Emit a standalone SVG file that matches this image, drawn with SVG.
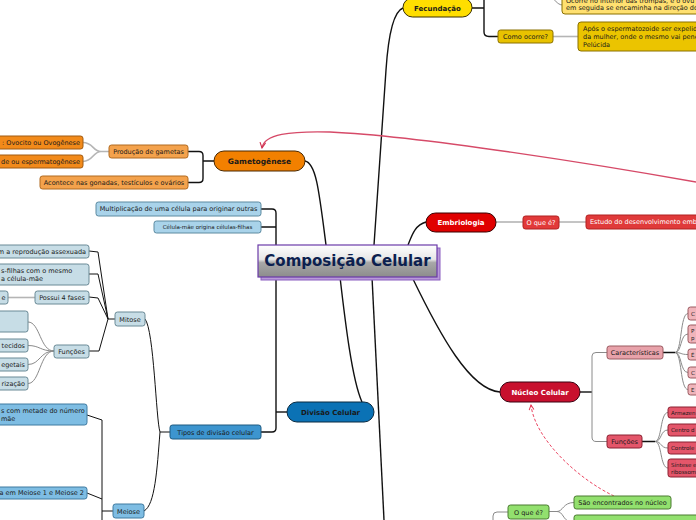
<svg xmlns="http://www.w3.org/2000/svg" width="696" height="520" viewBox="0 0 696 520">
<defs>
<linearGradient id="cg" x1="0" y1="0" x2="0" y2="1">
<stop offset="0" stop-color="#ffffff"/><stop offset="0.45" stop-color="#e6e6e6"/><stop offset="0.55" stop-color="#a8a8a8"/><stop offset="1" stop-color="#8c8c8c"/>
</linearGradient>
<marker id="ar" viewBox="0 0 10 10" refX="9" refY="5" markerWidth="7" markerHeight="7" orient="auto" markerUnits="userSpaceOnUse">
<path d="M1,1 L9,5 L1,9" fill="none" stroke="#d0304f" stroke-width="1.6"/>
</marker>
<marker id="ar2" viewBox="0 0 10 10" refX="9" refY="5" markerWidth="6" markerHeight="6" orient="auto" markerUnits="userSpaceOnUse">
<path d="M1,1 L9,5 L1,9" fill="none" stroke="#e8304f" stroke-width="1.6"/>
</marker>
</defs>
<style>
text{font-family:"DejaVu Sans",Verdana,sans-serif;fill:#1a1a1a}
.t{font-size:6.5px}
.s{font-size:5.5px}
.b{font-weight:bold;font-size:7.5px}
.w{fill:#ffffff}
.k{fill:none;stroke:#111;stroke-width:1.4}
.k1{fill:none;stroke:#111;stroke-width:1}
.g{fill:none;stroke:#8a8a8a;stroke-width:1}
.gl{fill:none;stroke:#b5b5b5;stroke-width:1.6}
</style>
<rect width="696" height="520" fill="#ffffff"/>

<g id="connectors">
<path class="k" d="M403,8 C392,12 388,40 386,70 L374,245"/>
<path class="k" d="M305,161 C316,163 319,190 326,245"/>
<path class="k" d="M426,222 C415,225 412,235 408,245"/>
<path class="k" d="M412,277 C440,335 470,390 500,392"/>
<path class="k" d="M340,277 C345,320 352,380 362,402"/>
<path class="k" d="M372,277 C376,350 380,430 384,520"/>
<path class="k" d="M287,412 H276"/>
<path class="k" d="M261,209 H272 Q276,209 276,213 V428 Q276,432 272,432 H261 M261,227 H276"/>
<path class="k" d="M214,161 H203 M188,151.5 H199 Q203,151.5 203,155.5 V178.5 Q203,182.5 199,182.5 H188"/>
<path class="gl" d="M109,151.5 H101 C93,151.5 93,142.5 83,142.5 M101,151.5 C93,151.5 93,161.5 83,161.5"/>
<path class="k1" d="M170,432 H160 C156,420 154,330 145,319 M160,432 C157,470 155,505 144,511"/>
<path class="k1" d="M115,319 H108 M89,251 L98,252 L108,319 M89,274 L98,274 L108,319 M89,297 L98,298 L108,319 M89,351 L99,351 L108,319"/>
<path class="gl" d="M35,297.5 H8"/>
<path class="g" d="M54,351 C40,351 40,322 28,322 M54,351 C40,351 40,345.5 28,345.5 M54,351 C40,351 40,364.5 28,364.5 M54,351 C40,351 40,383.5 28,383.5"/>
<path class="k1" d="M87,415 L102,420 V520 M87,493 L102,499 M102,511 H113"/>
<path class="k" d="M472,8 H484 M484,-5 V32 Q484,36.5 489,36.5 H498"/>
<path class="gl" d="M553,36.5 H578"/>
<path class="g" d="M548,-3 C556,-2 556,5 563,5"/>
<path class="gl" d="M496,222 H523"/>
<path class="g" d="M559,222 H586"/>
<path class="k" d="M580,392 H592"/>
<path class="g" d="M592,392 V356 Q592,352.5 596,352.5 H607 M592,392 V437 Q592,441.5 596,441.5 H607"/>
<path class="k" d="M663,352.5 H675 M642,441.5 H655"/>
<path class="g" d="M675,352.5 C682,352.5 680,313.5 688,313.5 M675,352.5 C682,352.5 680,334 688,334 M675,352.5 C682,352.5 680,354.5 688,354.5 M675,352.5 C682,352.5 680,372.5 688,372.5 M675,352.5 C682,352.5 680,389.5 688,389.5"/>
<path class="g" d="M655,441.5 C662,441.5 660,412.5 668,412.5 M655,441.5 C662,441.5 660,430 668,430 M655,441.5 C662,441.5 660,448 668,448 M655,441.5 C662,441.5 660,468 668,468"/>
<path class="g" d="M548,511.5 H557 C563,511.5 563,502.5 574,502.5 M557,511.5 C563,511.5 563,520 570,522"/>
<path class="g" d="M508,512 H497 Q493,512 493,516 V522"/>
<path fill="none" stroke="#d64a68" stroke-width="1.3" d="M696,182 C600,165 420,136 330,132 C290,131 264,134 262,148" marker-end="url(#ar)"/>
<path fill="none" stroke="#e8304f" stroke-width="0.9" stroke-dasharray="3,2" d="M614,496 C580,480 535,440 531,405" marker-end="url(#ar2)"/>
</g>

<g id="center">
<rect x="261" y="248" width="179" height="32" fill="#b89ad8" stroke="#8a5cc0" stroke-width="1"/>
<rect x="258" y="245" width="179" height="32" fill="url(#cg)" stroke="#6a3aa8" stroke-width="1.2"/>
<text x="347.5" y="266" text-anchor="middle" style="font-size:15px;font-weight:bold;fill:#0c1f4f">Composição Celular</text>
</g>

<g id="gametogenese">
<rect x="214" y="151" width="91" height="20" rx="10" fill="#f28000" stroke="#4a2800" stroke-width="1"/>
<text class="b" x="259.5" y="164" text-anchor="middle">Gametogênese</text>
</g>
<g id="producao">
<rect x="109" y="145" width="79" height="13" rx="2.5" fill="#f4a24c" stroke="#b06a20"/>
<text class="t" x="148.5" y="153.8" text-anchor="middle">Produção de gametas</text>
</g>
<g id="acontece">
<rect x="40" y="176" width="148" height="13" rx="2.5" fill="#f4a24c" stroke="#b06a20"/>
<text class="t" x="114" y="184.8" text-anchor="middle">Acontece nas gonadas, testículos e ovários</text>
</g>
<g id="ovocito">
<rect x="-6" y="136" width="89" height="13" rx="2.5" fill="#f28a1a" stroke="#a05a10"/>
<text class="t" x="80" y="144.8" text-anchor="end">: Ovocito ou Ovogênese</text>
</g>
<g id="esperma">
<rect x="-6" y="155" width="89" height="13" rx="2.5" fill="#f28a1a" stroke="#a05a10"/>
<text class="t" x="80" y="163.8" text-anchor="end">de ou espermatogênese</text>
</g>

<g id="divisao">
<rect x="287" y="402" width="87" height="20" rx="10" fill="#0b72b5" stroke="#0a2a40" stroke-width="1"/>
<text class="b" x="330.5" y="415" text-anchor="middle" style="font-size:7px">Divisão Celular</text>
</g>
<g id="multiplicacao">
<rect x="96" y="202" width="165" height="14" rx="2.5" fill="#a9d3ea" stroke="#5c8aa0"/>
<text class="t" x="178.5" y="211.3" text-anchor="middle">Multiplicação de uma célula para originar outras</text>
</g>
<g id="celulamae">
<rect x="154" y="221" width="107" height="12" rx="2.5" fill="#a9d3ea" stroke="#5c8aa0"/>
<text class="s" x="207.5" y="229" text-anchor="middle">Célula-mãe origina células-filhas</text>
</g>
<g id="tipos">
<rect x="170" y="425" width="91" height="14" rx="2.5" fill="#3d95cf" stroke="#1f5a80"/>
<text class="t" x="215.5" y="434.5" text-anchor="middle">Tipos de divisão celular</text>
</g>
<g id="mitose">
<rect x="115" y="312" width="30" height="14" rx="2.5" fill="#c7dde6" stroke="#6a8a96"/>
<text class="t" x="130" y="321.5" text-anchor="middle">Mitose</text>
</g>
<g id="meiose">
<rect x="113" y="504" width="31" height="14" rx="2.5" fill="#7ebde3" stroke="#3f7aa0"/>
<text class="t" x="128.5" y="513.5" text-anchor="middle">Meiose</text>
</g>
<g id="mit1">
<rect x="-6" y="245" width="95" height="13" rx="2.5" fill="#c7dde6" stroke="#6a8a96"/>
<text class="t" x="86" y="253.8" text-anchor="end">m a reprodução assexuada</text>
</g>
<g id="mit2">
<rect x="-6" y="264" width="95" height="21" rx="2.5" fill="#c7dde6" stroke="#6a8a96"/>
<text class="t" x="1" y="272.5">s-filhas com o mesmo</text>
<text class="t" x="1" y="280.5">a célula-mãe</text>
</g>
<g id="fases">
<rect x="35" y="291" width="54" height="13" rx="2.5" fill="#c7dde6" stroke="#6a8a96"/>
<text class="t" x="62" y="299.8" text-anchor="middle">Possui 4 fases</text>
</g>
<g id="fases1">
<rect x="-6" y="291" width="14" height="13" rx="2.5" fill="#c7dde6" stroke="#6a8a96"/>
<text class="t" x="5.5" y="299.8" text-anchor="end">e</text>
</g>
<g id="funcoesm">
<rect x="54" y="345" width="35" height="13" rx="2.5" fill="#c7dde6" stroke="#6a8a96"/>
<text class="t" x="71.5" y="353.8" text-anchor="middle">Funções</text>
</g>
<g id="fm1"><rect x="-6" y="311" width="34" height="21" rx="2.5" fill="#c7dde6" stroke="#6a8a96"/></g>
<g id="fm2"><rect x="-6" y="339" width="34" height="13" rx="2.5" fill="#c7dde6" stroke="#6a8a96"/><text class="t" x="25" y="347.8" text-anchor="end">tecidos</text></g>
<g id="fm3"><rect x="-6" y="358" width="34" height="13" rx="2.5" fill="#c7dde6" stroke="#6a8a96"/><text class="t" x="25" y="366.8" text-anchor="end">egetais</text></g>
<g id="fm4"><rect x="-6" y="377" width="34" height="13" rx="2.5" fill="#c7dde6" stroke="#6a8a96"/><text class="t" x="25" y="385.8" text-anchor="end">rização</text></g>
<g id="mei1">
<rect x="-6" y="404" width="93" height="21" rx="2.5" fill="#7ebde3" stroke="#3f7aa0"/>
<text class="t" x="1" y="412.5">s com metade do número</text>
<text class="t" x="1" y="420.5">mãe</text>
</g>
<g id="mei2">
<rect x="-6" y="487" width="93" height="12" rx="2.5" fill="#7ebde3" stroke="#3f7aa0"/>
<text class="t" x="84" y="495.3" text-anchor="end">a em Meiose 1 e Meiose 2</text>
</g>

<g id="fecundacao">
<rect x="403" y="-2" width="69" height="19" rx="9.5" fill="#ffde00" stroke="#3a3000" stroke-width="1"/>
<text class="b" x="437.5" y="10.5" text-anchor="middle" style="font-size:7px">Fecundação</text>
</g>
<g id="ocorre">
<rect x="562" y="-10" width="140" height="24" rx="3" fill="#ffe070" stroke="#8a7000"/>
<text class="t" x="566" y="2.5">Ocorre no interior das trompas, e o óvu</text>
<text class="t" x="566" y="10">em seguida se encaminha na direção do</text>
</g>
<g id="comoocorre">
<rect x="498" y="30" width="55" height="13" rx="2.5" fill="#e8c200" stroke="#8a7000"/>
<text class="t" x="525.5" y="38.8" text-anchor="middle">Como ocorre?</text>
</g>
<g id="apos">
<rect x="578" y="22" width="130" height="29" rx="3" fill="#ebc400" stroke="#8a7000"/>
<text class="t" x="583" y="31">Após o espermatozoide ser expelid</text>
<text class="t" x="583" y="39">da mulher, onde o mesmo vai pene</text>
<text class="t" x="583" y="47">Pelúcida</text>
</g>

<g id="embriologia">
<rect x="426" y="213" width="70" height="19" rx="9.5" fill="#e00000" stroke="#3a0000" stroke-width="1"/>
<text class="b w" x="461" y="225" text-anchor="middle" style="font-size:7px">Embriologia</text>
</g>
<g id="oqueeE">
<rect x="523" y="216" width="36" height="13" rx="2.5" fill="#e23a3a" stroke="#b02020"/>
<text class="t w" x="541" y="224.8" text-anchor="middle">O que é?</text>
</g>
<g id="estudo">
<rect x="586" y="215" width="120" height="14" rx="2.5" fill="#e03a3a" stroke="#b02020"/>
<text class="t w" x="590" y="224.3">Estudo do desenvolvimento emb</text>
</g>

<g id="nucleo">
<rect x="500" y="382" width="80" height="20" rx="10" fill="#c8102e" stroke="#3a0010" stroke-width="1"/>
<text class="b w" x="540" y="395" text-anchor="middle" style="font-size:7px">Núcleo Celular</text>
</g>
<g id="caracteristicas">
<rect x="607" y="346" width="56" height="13" rx="2.5" fill="#e8a2aa" stroke="#9a5a60"/>
<text class="t" x="635" y="354.8" text-anchor="middle">Características</text>
</g>
<g id="c1"><rect x="688" y="307" width="14" height="13" rx="2.5" fill="#f0b4ba" stroke="#9a5a60"/><text class="s" x="691" y="315.5">C</text></g>
<g id="c2"><rect x="688" y="325" width="14" height="18" rx="2.5" fill="#f0b4ba" stroke="#9a5a60"/><text class="s" x="691" y="332.5">P</text><text class="s" x="691" y="339.5">p</text></g>
<g id="c3"><rect x="688" y="349" width="14" height="11" rx="2.5" fill="#f0b4ba" stroke="#9a5a60"/><text class="s" x="691" y="356.5">É</text></g>
<g id="c4"><rect x="688" y="367" width="14" height="11" rx="2.5" fill="#f0b4ba" stroke="#9a5a60"/><text class="s" x="691" y="374.5">C</text></g>
<g id="c5"><rect x="688" y="384" width="14" height="11" rx="2.5" fill="#f0b4ba" stroke="#9a5a60"/><text class="s" x="691" y="391.5">E</text></g>
<g id="funcoesn">
<rect x="607" y="435" width="35" height="13" rx="2.5" fill="#e4566a" stroke="#8a2030"/>
<text class="t" x="624.5" y="443.8" text-anchor="middle">Funções</text>
</g>
<g id="f1"><rect x="668" y="407" width="34" height="11" rx="2.5" fill="#e4566a" stroke="#8a2030"/><text class="s" x="671" y="414.5">Armazen</text></g>
<g id="f2"><rect x="668" y="424" width="34" height="12" rx="2.5" fill="#e4566a" stroke="#8a2030"/><text class="s" x="671" y="432">Centro d</text></g>
<g id="f3"><rect x="668" y="442" width="34" height="12" rx="2.5" fill="#e4566a" stroke="#8a2030"/><text class="s" x="671" y="450">Controle</text></g>
<g id="f4"><rect x="668" y="459" width="34" height="18" rx="2.5" fill="#e4566a" stroke="#8a2030"/><text class="s" x="671" y="466.5">Síntese e</text><text class="s" x="671" y="473.5">ribossom</text></g>

<g id="oqueeV">
<rect x="508" y="505" width="41" height="14" rx="2.5" fill="#92e06e" stroke="#4a7a30"/>
<text class="t" x="528.5" y="514.5" text-anchor="middle">O que é?</text>
</g>
<g id="saoencontrados">
<rect x="574" y="496" width="97" height="13" rx="2.5" fill="#92e06e" stroke="#4a7a30"/>
<text class="t" x="622.5" y="504.8" text-anchor="middle">São encontrados no núcleo</text>
</g>
<g id="verde2">
<rect x="574" y="515" width="130" height="14" rx="2.5" fill="#92e06e" stroke="#4a7a30"/>
</g>
</svg>
